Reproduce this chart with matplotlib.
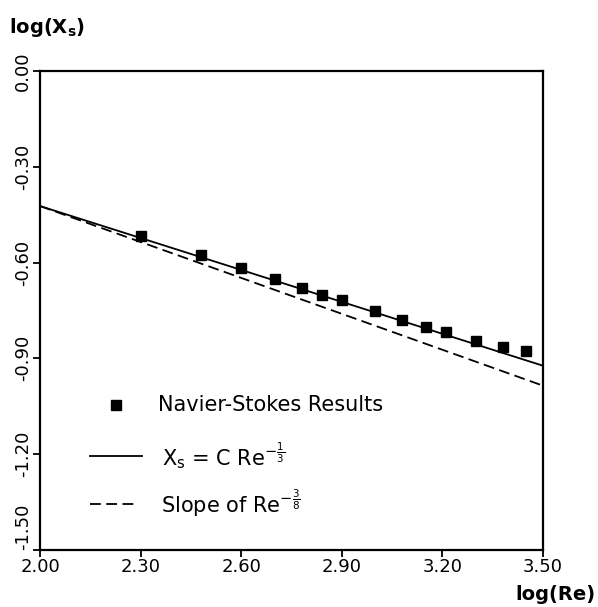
import matplotlib
matplotlib.use('Agg')
import matplotlib.pyplot as plt
import numpy as np

plt.rcParams['font.family'] = ['DejaVu Sans']
plt.rcParams['mathtext.default'] = 'regular'

# Navier-Stokes separation lengths, log10 values
log_re = [2.30, 2.48, 2.60, 2.70, 2.78, 2.84, 2.90, 3.00, 3.08, 3.15, 3.21, 3.30, 3.38, 3.45]
log_xs = [-0.517, -0.576, -0.616, -0.650, -0.681, -0.702, -0.717, -0.752, -0.780,
          -0.801, -0.818, -0.845, -0.864, -0.877]

# both power laws pass through the same point at log(Re) = 2
log_re_start = 2.00
log_xs_start = -0.423
fit_exponent = -1.0 / 3.0
slope_exponent = -3.0 / 8.0

xticks = [2.00, 2.30, 2.60, 2.90, 3.20, 3.50]
yticks = [0.00, -0.30, -0.60, -0.90, -1.20, -1.50]


def power_law(x, exponent):
    return log_xs_start + exponent * (np.asarray(x) - log_re_start)


fig = plt.figure(figsize=(5.98, 6.07), dpi=100)
ax = fig.add_axes([0.067, 0.094, 0.841, 0.789])

xx = np.array([2.00, 3.50])
ax.plot(xx, power_law(xx, fit_exponent), color='black', lw=1.3)
ax.plot(xx, power_law(xx, slope_exponent), color='black', lw=1.3, dashes=(6, 3))
ax.plot(log_re, log_xs, 's', color='black', ms=7)

ax.set_xlim(2.0, 3.5)
ax.set_ylim(-1.5, 0.0)
ax.set_xticks(xticks)
ax.set_xticklabels(['%.2f' % v for v in xticks], fontsize=13)
ax.set_yticks(yticks)
ax.set_yticklabels(['%.2f' % v for v in yticks], fontsize=13, rotation=90, va='center')
# keep the bottom y label clear of the first x label
ax.get_yticklabels()[-1].set_va('bottom')

for s in ax.spines.values():
    s.set_linewidth(1.6)
ax.tick_params(direction='out', length=5, width=1.3, pad=1)

# hand-drawn key in the lower left
ax.plot([2.227], [-1.045], 's', color='black', ms=7)
ax.text(2.352, -1.045, 'Navier-Stokes Results', fontsize=15, va='center')
ax.plot([2.15, 2.305], [-1.205, -1.205], color='black', lw=1.3)
ax.text(2.365, -1.205, r'$X_s$ = C Re$^{-\frac{1}{3}}$', fontsize=15, va='center')
ax.plot([2.15, 2.29], [-1.355, -1.355], color='black', lw=1.3, dashes=(6, 3))
ax.text(2.36, -1.355, r'Slope of Re$^{-\frac{3}{8}}$', fontsize=15, va='center')

fig.text(0.015, 0.955, r'log(X$_s$)', fontsize=14, fontweight='bold', va='center')
fig.text(0.995, 0.02, 'log(Re)', fontsize=14, fontweight='bold', ha='right', va='center')

fig.savefig('out.png', dpi=100, facecolor='white')
